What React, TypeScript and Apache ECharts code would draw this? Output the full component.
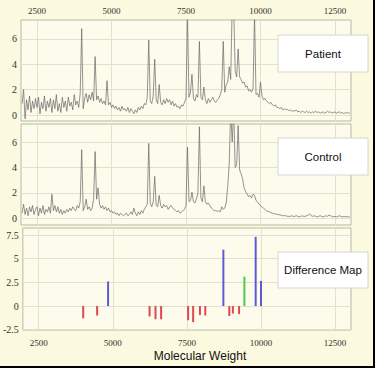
import React, { useEffect, useRef } from "react";
import * as echarts from "echarts";

// Spectra sampled every 50 Da starting at 2000 Da
const mwStart = 2000;
const mwStep = 50;

const patient = [
  0.9, 2.0, -0.3, 1.2, 0.4, 1.5, 0.2, 1.1, 0.5, 1.3,
  0.6, 1.4, 0.1, 1.0, 0.5, 1.5, 0.3, 1.1, 0.6, 1.3,
  0.2, 1.2, 0.5, 1.6, 0.3, 0.9, 0.2, 1.4, 0.6, 1.1,
  0.3, 1.4, 0.7, 1.0, 0.4, 1.6, 0.8, 1.1, 0.6, 1.7,
  6.8, 0.5, 1.3, 1.7, 1.0, 1.6, 1.2, 1.8, 1.1, 4.6,
  1.2, 1.5, 1.0, 1.3, 0.9, 1.1, 0.8, 2.7, 0.8, 1.0,
  0.6, 0.8, 0.5, 0.7, 0.4, 0.6, 0.3, 0.7, 0.4, 0.5,
  0.3, 0.6, 0.2, 0.5, 0.3, 0.1, 0.4, 0.2, 0.6, 0.4,
  0.7, 0.5, 0.9, 0.8, 1.4, 5.9, 1.1, 0.9, 1.5, 4.4,
  1.2, 0.9, 2.4, 1.0, 0.8, 1.2, 0.9, 1.3, 1.0, 1.2,
  0.8, 1.1, 0.7, 0.9, 0.6, 0.7, 0.5, 0.8, 0.7, 1.0,
  1.3, 7.9, 1.4, 1.8, 3.2, 1.3, 1.1, 1.6, 1.4, 5.8,
  1.4, 1.2, 2.2, 1.2, 0.9, 1.3, 1.0, 1.2, 1.4, 1.1,
  1.0, 1.2, 1.3, 1.6, 2.0, 5.8, 1.8, 2.4, 2.6, 3.8,
  2.8, 8.5, 8.5, 3.5, 3.0, 5.2, 3.0, 2.8, 2.5, 2.6,
  2.2, 2.3, 1.9, 2.0, 1.8, 2.1, 7.9, 1.6, 1.7, 1.4,
  2.6, 1.5, 1.2, 1.3, 1.1, 1.0, 0.9, 1.0, 0.8, 0.7,
  0.8, 0.6, 0.6, 0.5, 0.6, 0.4, 0.5, 0.4, 0.45, 0.35,
  0.4, 0.3, 0.35, 0.3, 0.4, 0.25, 0.3, 0.2, 0.3, 0.25,
  0.2, 0.3, 0.2, 0.25, 0.15, 0.25, 0.2, 0.3, 0.2, 0.25,
  0.15, 0.2, 0.25, 0.15, 0.2, 0.3, 0.2, 0.25, 0.15, 0.2,
  0.25, 0.15, 0.2, 0.25, 0.15, 0.2, 0.1, 0.2, 0.15, 0.2,
  0.1,
];

const control = [
  0.4, 1.1, 0.3, 0.8, 0.2, 0.9, 0.5, 1.0, 0.3, 0.7,
  0.9, 0.2, 0.8, 0.4, 1.0, 0.3, 0.7, 0.5, 0.9, 0.4,
  1.9, 0.6, 1.0, 0.5, 0.9, 0.4, 0.7, 0.3, 0.6, 0.4,
  0.7, 0.5, 0.8, 0.6, 0.9, 0.7, 0.6, 1.0, 0.8, 1.3,
  5.4, 0.6, 0.9, 1.5, 0.7, 0.9, 0.6, 0.8, 1.5, 5.25,
  1.5, 2.4, 1.1, 0.8, 1.0, 0.7, 0.9, 0.6, 0.8, 0.5,
  0.6, 0.4, 0.5, 0.3, 0.4, 0.2, 0.4, 0.3, 0.2, 0.3,
  0.4, 0.2, 0.3, 0.5, 0.3, 0.8, 0.4, 0.2, 0.5, 0.3,
  0.6, 0.4, 0.7, 0.9, 1.1, 5.9, 1.2, 0.9, 1.3, 3.3,
  1.0, 0.9, 1.8, 1.0, 0.8, 1.1, 0.9, 1.0, 0.7, 0.9,
  1.0, 0.8, 0.7, 0.6, 0.5, 0.6, 0.4, 0.5, 0.6, 0.7,
  1.0, 5.6, 1.3, 1.4, 2.05, 1.3, 1.2, 1.5, 2.0, 7.2,
  1.6, 1.3, 2.55, 1.3, 1.1, 1.2, 1.0, 0.8, 0.7, 0.6,
  0.6, 0.55, 0.6, 0.5, 0.9, 0.7, 0.8, 1.2, 2.5, 4.3,
  8.5, 6.0, 8.5, 4.0, 4.2, 7.3, 3.8, 3.5, 3.1, 2.4,
  2.1, 1.9, 1.7, 1.8, 1.6, 1.9, 1.8, 1.4, 1.3, 1.1,
  1.0, 0.9, 0.8, 0.7, 0.6, 0.55, 0.5, 0.45, 0.4, 0.35,
  0.35, 0.3, 0.3, 0.25, 0.25, 0.2, 0.2, 0.2, 0.15, 0.15,
  0.15, 0.2, 0.15, 0.15, 0.2, 0.15, 0.1, 0.15, 0.2, 0.15,
  0.15, 0.2, 0.25, 0.35, 0.2, 0.15, 0.2, 0.15, 0.1, 0.15,
  0.2, 0.15, 0.1, 0.15, 0.2, 0.15, 0.25, 0.2, 0.15, 0.1,
  0.15, 0.1, 0.15, 0.2, 0.15, 0.1, 0.15, 0.1, 0.15, 0.1,
  0.1,
];

// Difference map
const lossMW = [4000, 4470, 6240, 6440, 6630, 7540, 7710, 7940, 8120, 8930, 9050, 9260];
const lossVal = [-1.3, -1.0, -1.1, -1.4, -1.4, -1.5, -1.7, -0.95, -1.0, -1.05, -0.8, -0.85];
const gainMW = [4840, 8730, 9820, 10000];
const gainVal = [2.6, 5.95, 7.3, 2.65];
const uniqueMW = [9440];
const uniqueVal = [3.1];

const xTicks = [2500, 5000, 7500, 10000, 12500];
const specYTicks = [0, 2, 4, 6];
const diffYTicks = [-2.5, 0, 2.5, 5, 7.5];
const panelNames = ["Patient", "Control", "Difference Map"];
const xTitle = "Molecular Weight";

const OUTER_BG = "#FBF9DE";
const PLOT_BG = "#FDFCEC";
const GRID_LINE = "#E3E1CB";
const BORDER = "#B8B8A6";
const LABEL_FONT = "Liberation Serif";
const SANS = "Liberation Sans";

const toPairs = (vals: number[]) => vals.map((v, i) => [mwStart + i * mwStep, v]);
const zip = (xs: number[], ys: number[]) => xs.map((x, i) => [x, ys[i]]);

export default function App() {
  const ref = useRef<HTMLDivElement>(null);

  useEffect(() => {
    if (!ref.current) return;
    const chart = echarts.init(ref.current, null, { renderer: "svg" });

    const grids = [
      { left: 21, top: 20, width: 330, height: 101 },
      { left: 21, top: 124, width: 330, height: 101 },
      { left: 21, top: 228, width: 330, height: 102 },
    ].map((g) => ({
      ...g,
      show: true,
      backgroundColor: PLOT_BG,
      borderColor: BORDER,
      borderWidth: 1,
      containLabel: false,
    }));

    const xAxisBase = (gi: number, showLabel: boolean, pos: "top" | "bottom") => ({
      type: "value" as const,
      gridIndex: gi,
      min: 1963,
      max: 13037,
      position: pos,
      axisLine: { show: false },
      axisTick: { show: false, customValues: xTicks },
      axisLabel: {
        show: showLabel,
        customValues: xTicks,
        formatter: (v: number) => String(v),
        fontFamily: LABEL_FONT,
        fontSize: 9,
        color: "#333",
        margin: pos === "top" ? 5 : 8,
      },
      splitLine: { show: true, lineStyle: { color: GRID_LINE, width: 1 } },
    });

    const yAxisBase = (gi: number, min: number, max: number, ticks: number[]) => ({
      type: "value" as const,
      gridIndex: gi,
      min,
      max,
      axisLine: { show: false },
      axisTick: { show: false, customValues: ticks },
      axisLabel: {
        customValues: ticks,
        formatter: (v: number) => String(v),
        fontFamily: LABEL_FONT,
        fontSize: 10,
        color: "#333",
        margin: 4,
      },
      splitLine: { show: true, lineStyle: { color: GRID_LINE, width: 1 } },
    });

    const stemSeries = (xs: number[], ys: number[], color: string) => ({
      type: "custom" as const,
      xAxisIndex: 2,
      yAxisIndex: 2,
      data: zip(xs, ys),
      renderItem: (_p: any, api: any) => {
        const x = api.value(0);
        const y = api.value(1);
        const p0 = api.coord([x, 0]);
        const p1 = api.coord([x, y]);
        return {
          type: "rect",
          shape: {
            x: p0[0] - 1,
            y: Math.min(p0[1], p1[1]),
            width: 2,
            height: Math.abs(p1[1] - p0[1]),
          },
          style: { fill: color },
        };
      },
    });

    const boxes = [
      { y: 35, h: 37 },
      { y: 138, h: 37 },
      { y: 252, h: 36 },
    ];

    const graphic: any[] = [];
    boxes.forEach((b, i) => {
      graphic.push({
        type: "rect",
        shape: { x: 278, y: b.y, width: 90, height: b.h },
        style: { fill: "#FFFFFF", stroke: "#D6D6D0", lineWidth: 1 },
        z: 100,
      });
      graphic.push({
        type: "text",
        x: 323,
        y: b.y + b.h / 2,
        style: {
          text: panelNames[i],
          fill: "#111",
          fontSize: 11.5,
          fontFamily: SANS,
          textAlign: "center",
          textVerticalAlign: "middle",
        },
        z: 101,
      });
    });
    graphic.push({
      type: "text",
      x: 200,
      y: 356,
      style: {
        text: xTitle,
        fill: "#111",
        fontSize: 12,
        fontFamily: SANS,
        textAlign: "center",
        textVerticalAlign: "middle",
      },
      z: 101,
    });
    graphic.push({ type: "rect", shape: { x: 373, y: 0, width: 2, height: 368 }, style: { fill: "#000" }, z: 120 });
    graphic.push({ type: "rect", shape: { x: 0, y: 366, width: 375, height: 2 }, style: { fill: "#000" }, z: 120 });

    chart.setOption({
      animation: false,
      backgroundColor: OUTER_BG,
      grid: grids,
      xAxis: [xAxisBase(0, true, "top"), xAxisBase(1, false, "bottom"), xAxisBase(2, true, "bottom")],
      yAxis: [
        yAxisBase(0, -0.47, 7.48, specYTicks),
        yAxisBase(1, -0.53, 7.42, specYTicks),
        yAxisBase(2, -2.53, 8.24, diffYTicks),
      ],
      graphic,
      series: [
        {
          type: "line",
          xAxisIndex: 0,
          yAxisIndex: 0,
          data: toPairs(patient),
          showSymbol: false,
          clip: true,
          lineStyle: { color: "#666", width: 0.7 },
        },
        {
          type: "line",
          xAxisIndex: 1,
          yAxisIndex: 1,
          data: toPairs(control),
          showSymbol: false,
          clip: true,
          lineStyle: { color: "#666", width: 0.7 },
        },
        stemSeries(lossMW, lossVal, "#E0474F"),
        stemSeries(gainMW, gainVal, "#5B5BD6"),
        stemSeries(uniqueMW, uniqueVal, "#4CCB4C"),
      ],
    });

    return () => chart.dispose();
  }, []);

  return (
    <div
      ref={ref}
      style={{ position: "fixed", left: 0, top: 0, width: 375, height: 368 }}
    />
  );
}
